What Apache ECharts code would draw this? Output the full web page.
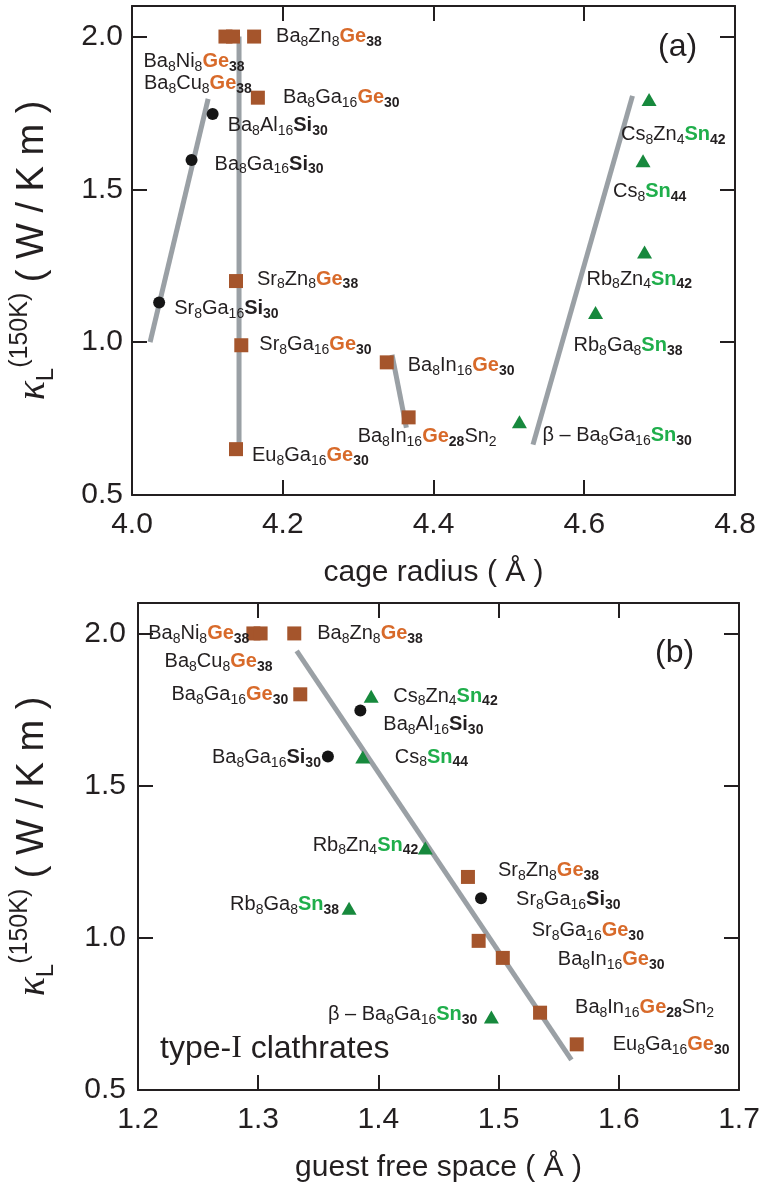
<!DOCTYPE html>
<html><head><meta charset="utf-8">
<script src="https://cdn.jsdelivr.net/npm/echarts@6/dist/echarts.min.js"></script>
<style>html,body{margin:0;padding:0;background:#fff}#c{width:764px;height:1189px}</style>
</head><body><div id="c"></div>
<script>
// ---- data ----
// markup: _digits = subscript, [X] = Ge framework (orange bold), {X} = Si framework (bold), <X> = Sn framework (green bold)
const compounds = [
  'Ba_8Ni_8[Ge]_38', 'Ba_8Cu_8[Ge]_38', 'Ba_8Zn_8[Ge]_38', 'Ba_8Ga_16[Ge]_30',
  'Sr_8Zn_8[Ge]_38', 'Sr_8Ga_16[Ge]_30', 'Ba_8In_16[Ge]_30', 'Ba_8In_16[Ge]_28Sn_2',
  'Eu_8Ga_16[Ge]_30', 'Ba_8Al_16{Si}_30', 'Ba_8Ga_16{Si}_30', 'Sr_8Ga_16{Si}_30',
  'Cs_8Zn_4<Sn>_42', 'Cs_8<Sn>_44', 'Rb_8Zn_4<Sn>_42', 'Rb_8Ga_8<Sn>_38', 'β – Ba_8Ga_16<Sn>_30'
];
const framework = ['Ge','Ge','Ge','Ge','Ge','Ge','Ge','Ge','Ge','Si','Si','Si','Sn','Sn','Sn','Sn','Sn'];
const kappa150K = [2.0, 2.0, 2.0, 1.80, 1.20, 0.99, 0.934, 0.754, 0.65, 1.747, 1.596, 1.13, 1.794, 1.594, 1.295, 1.097, 0.74];
const cageRadius = [4.124, 4.134, 4.162, 4.167, 4.138, 4.145, 4.338, 4.367, 4.138, 4.107, 4.079, 4.036, 4.686, 4.678, 4.680, 4.615, 4.514];
const guestFreeSpace = [1.296, 1.302, 1.330, 1.335, 1.4745, 1.4834, 1.5035, 1.5345, 1.565, 1.385, 1.358, 1.4854, 1.394, 1.387, 1.439, 1.3756, 1.494];
// trend lines [x, kappa] end points
const trendA = [
  [[4.024, 1.0], [4.101, 1.796]],
  [[4.142, 2.0], [4.142, 0.652]],
  [[4.345, 0.959], [4.364, 0.720]],
  [[4.532, 0.665], [4.664, 1.806]]
];
const trendB = [
  [[1.332, 1.943], [1.5606, 0.599]]
];
const xTicksA = [4.0, 4.8, 0.2];
const xTicksB = [1.2, 1.7, 0.1];
const yTicks = [0.5, 2.1, 0.5];

// ---- label placement (align, dx, dy in px) ----
const labelPosA = [
  ['left',-82,25],['left',-89,47],['left',22,0],['left',25,0],
  ['left',21,-2],['left',18,-1],['left',21,3],['left',-51,19],
  ['left',16,6],['left',15,12],['left',23,4],['left',15,6],
  ['left',-28,35],['left',-30,31],['left',-58,27],['left',-22,33],['left',23,14]
];
const labelPosB = [
  ['right',-4,0],['left',-96,28],['left',23,0],['right',-12,0],
  ['left',30,-6],['left',53,-10],['left',55,2],['left',35,-5],
  ['left',36,0],['left',23,14],['right',-7,1],['left',35,1],
  ['left',22,0],['left',32,0],['right',-7,-3],['right',-10,-4],['right',-14,-2]
];

const FONT = 'Liberation Sans, Arial, Helvetica, sans-serif';
const TXT = '#231f20';

function toRich(s){
  let out = '', prevBold = false, i = 0;
  const closeOf = {'[':']','{':'}','<':'>'}, styleOf = {'[':'ge','{':'si','<':'sn'};
  while (i < s.length){
    const c = s[i];
    if (c === '_'){
      let j = i + 1; while (j < s.length && /\d/.test(s[j])) j++;
      out += '{' + (prevBold ? 'sb' : 's') + '|' + s.slice(i+1, j) + '}';
      i = j; prevBold = false; continue;
    }
    if (closeOf[c]){
      const j = s.indexOf(closeOf[c], i);
      out += '{' + styleOf[c] + '|' + s.slice(i+1, j) + '}';
      i = j + 1; prevBold = true; continue;
    }
    let j = i; while (j < s.length && '_[{<'.indexOf(s[j]) < 0) j++;
    out += '{n|' + s.slice(i, j) + '}';
    i = j; prevBold = false;
  }
  return out;
}

const rich = {
  n:  {fontSize:20, lineHeight:25, verticalAlign:'middle', color:TXT, fontFamily:FONT},
  s:  {fontSize:14, verticalAlign:'bottom', color:TXT, fontFamily:FONT},
  sb: {fontSize:14, verticalAlign:'bottom', color:TXT, fontWeight:'bold', fontFamily:FONT},
  ge: {fontSize:20, lineHeight:25, verticalAlign:'middle', color:'#d86a2a', fontWeight:'bold', fontFamily:FONT},
  si: {fontSize:20, lineHeight:25, verticalAlign:'middle', color:TXT, fontWeight:'bold', fontFamily:FONT},
  sn: {fontSize:20, lineHeight:25, verticalAlign:'middle', color:'#1fae4b', fontWeight:'bold', fontFamily:FONT}
};

const markerStyle = {
  Ge: {symbol:'rect', size:14, color:'#a5552c'},
  Si: {symbol:'circle', size:12, color:'#151515'},
  Sn: {symbol:'triangle', size:[15,13], color:'#17893d'}
};

function pointSeries(panel, xs, pos){
  const out = [];
  ['Ge','Si','Sn'].forEach(fw => {
    const data = [];
    compounds.forEach((c, i) => {
      if (framework[i] !== fw) return;
      data.push({
        value: [xs[i], kappa150K[i]],
        label: {formatter: toRich(c), align: pos[i][0], offset: [pos[i][1], pos[i][2]]}
      });
    });
    const m = markerStyle[fw];
    out.push({
      type:'scatter', xAxisIndex: panel*2, yAxisIndex: panel*2, z:5,
      symbol: m.symbol, symbolSize: m.size, itemStyle:{color:m.color, opacity:1},
      label:{show:true, position:'inside', verticalAlign:'middle', color:TXT, opacity:1, rich: rich},
      emphasis:{disabled:true},
      data: data, animation:false, silent:true
    });
  });
  return out;
}
function trendSeries(panel, segs){
  return segs.map(seg => ({
    type:'line', xAxisIndex: panel*2, yAxisIndex: panel*2, z:2,
    data: seg, symbol:'none', lineStyle:{color:'#9aa0a5', width:5, cap:'butt', opacity:1},
    animation:false, silent:true
  }));
}

const half = v => Math.abs(v*2 - Math.round(v*2)) < 1e-6;
const tenth = v => Math.abs(v*10 - Math.round(v*10)) < 1e-6;
const axLine = {lineStyle:{color:TXT, width:2}};
const axTick = {inside:true, length:15, lineStyle:{color:TXT, width:2}};

function xAxes(grid, t, name){
  return [
    {gridIndex:grid, type:'value', position:'bottom', min:t[0], max:t[1], interval:t[2],
     axisLine:axLine, axisTick:axTick, splitLine:{show:false},
     axisLabel:{fontSize:30, color:TXT, fontFamily:FONT, margin:15, formatter:v => tenth(v) ? v.toFixed(1) : ''},
     name:name, nameLocation:'middle', nameGap:63,
     nameTextStyle:{fontSize:30, color:TXT, fontFamily:FONT}},
    {gridIndex:grid, type:'value', position:'top', min:t[0], max:t[1], interval:t[2],
     axisLine:axLine, axisTick:axTick, splitLine:{show:false}, axisLabel:{show:false}}
  ];
}
const yName = '{k|κ}{L|L}{p|(150K)}{u| ( W / K m )}';
const yRich = {
  k:{fontSize:40, lineHeight:50, verticalAlign:'middle', fontStyle:'italic', fontFamily:'Liberation Serif, serif', color:TXT},
  L:{fontSize:24, verticalAlign:'bottom', fontFamily:FONT, color:TXT},
  p:{fontSize:25, verticalAlign:'top', fontFamily:FONT, color:TXT},
  u:{fontSize:38, lineHeight:50, verticalAlign:'middle', fontFamily:FONT, color:TXT}
};
function yAxes(grid, t, gap, labMargin){
  return [
    {gridIndex:grid, type:'value', position:'left', min:t[0], max:t[1], interval:t[2],
     axisLine:axLine, axisTick:axTick, splitLine:{show:false},
     axisLabel:{fontSize:30, color:TXT, fontFamily:FONT, margin:labMargin, formatter:v => half(v) ? v.toFixed(1) : ''},
     name:yName, nameLocation:'middle', nameRotate:90, nameGap:gap,
     nameTextStyle:{rich:yRich}},
    {gridIndex:grid, type:'value', position:'right', min:t[0], max:t[1], interval:t[2],
     axisLine:axLine, axisTick:axTick, splitLine:{show:false}, axisLabel:{show:false}}
  ];
}

const chart = echarts.init(document.getElementById('c'), null, {renderer:'canvas'});
chart.setOption({
  backgroundColor:'#ffffff',
  animation:false,
  grid:[
    {left:127, top:6, width:608, height:489},
    {left:134, top:603, width:605, height:487}
  ],
  xAxis: xAxes(0, xTicksA, 'cage radius ( Å )').concat(xAxes(1, xTicksB, 'guest free space ( Å )')),
  yAxis: yAxes(0, yTicks, 74, 9).concat(yAxes(1, yTicks, 80, 12)),
  graphic:[
    {type:'text', left:658, top:31, silent:true, style:{text:'(a)', font:'32px Liberation Sans', fill:TXT}},
    {type:'text', left:655, top:637, silent:true, style:{text:'(b)', font:'32px Liberation Sans', fill:TXT}},
    {type:'text', left:160, top:1033, silent:true, style:{text:'{a|type-}{b|I}{a| clathrates}',
      rich:{a:{fontSize:32, fontFamily:FONT, fill:TXT, color:TXT}, b:{fontSize:32, fontFamily:'Liberation Serif, serif', fill:TXT, color:TXT}}}}
  ],
  series: trendSeries(0, trendA).concat(pointSeries(0, cageRadius, labelPosA))
    .concat(trendSeries(1, trendB)).concat(pointSeries(1, guestFreeSpace, labelPosB))
});
</script></body></html>
